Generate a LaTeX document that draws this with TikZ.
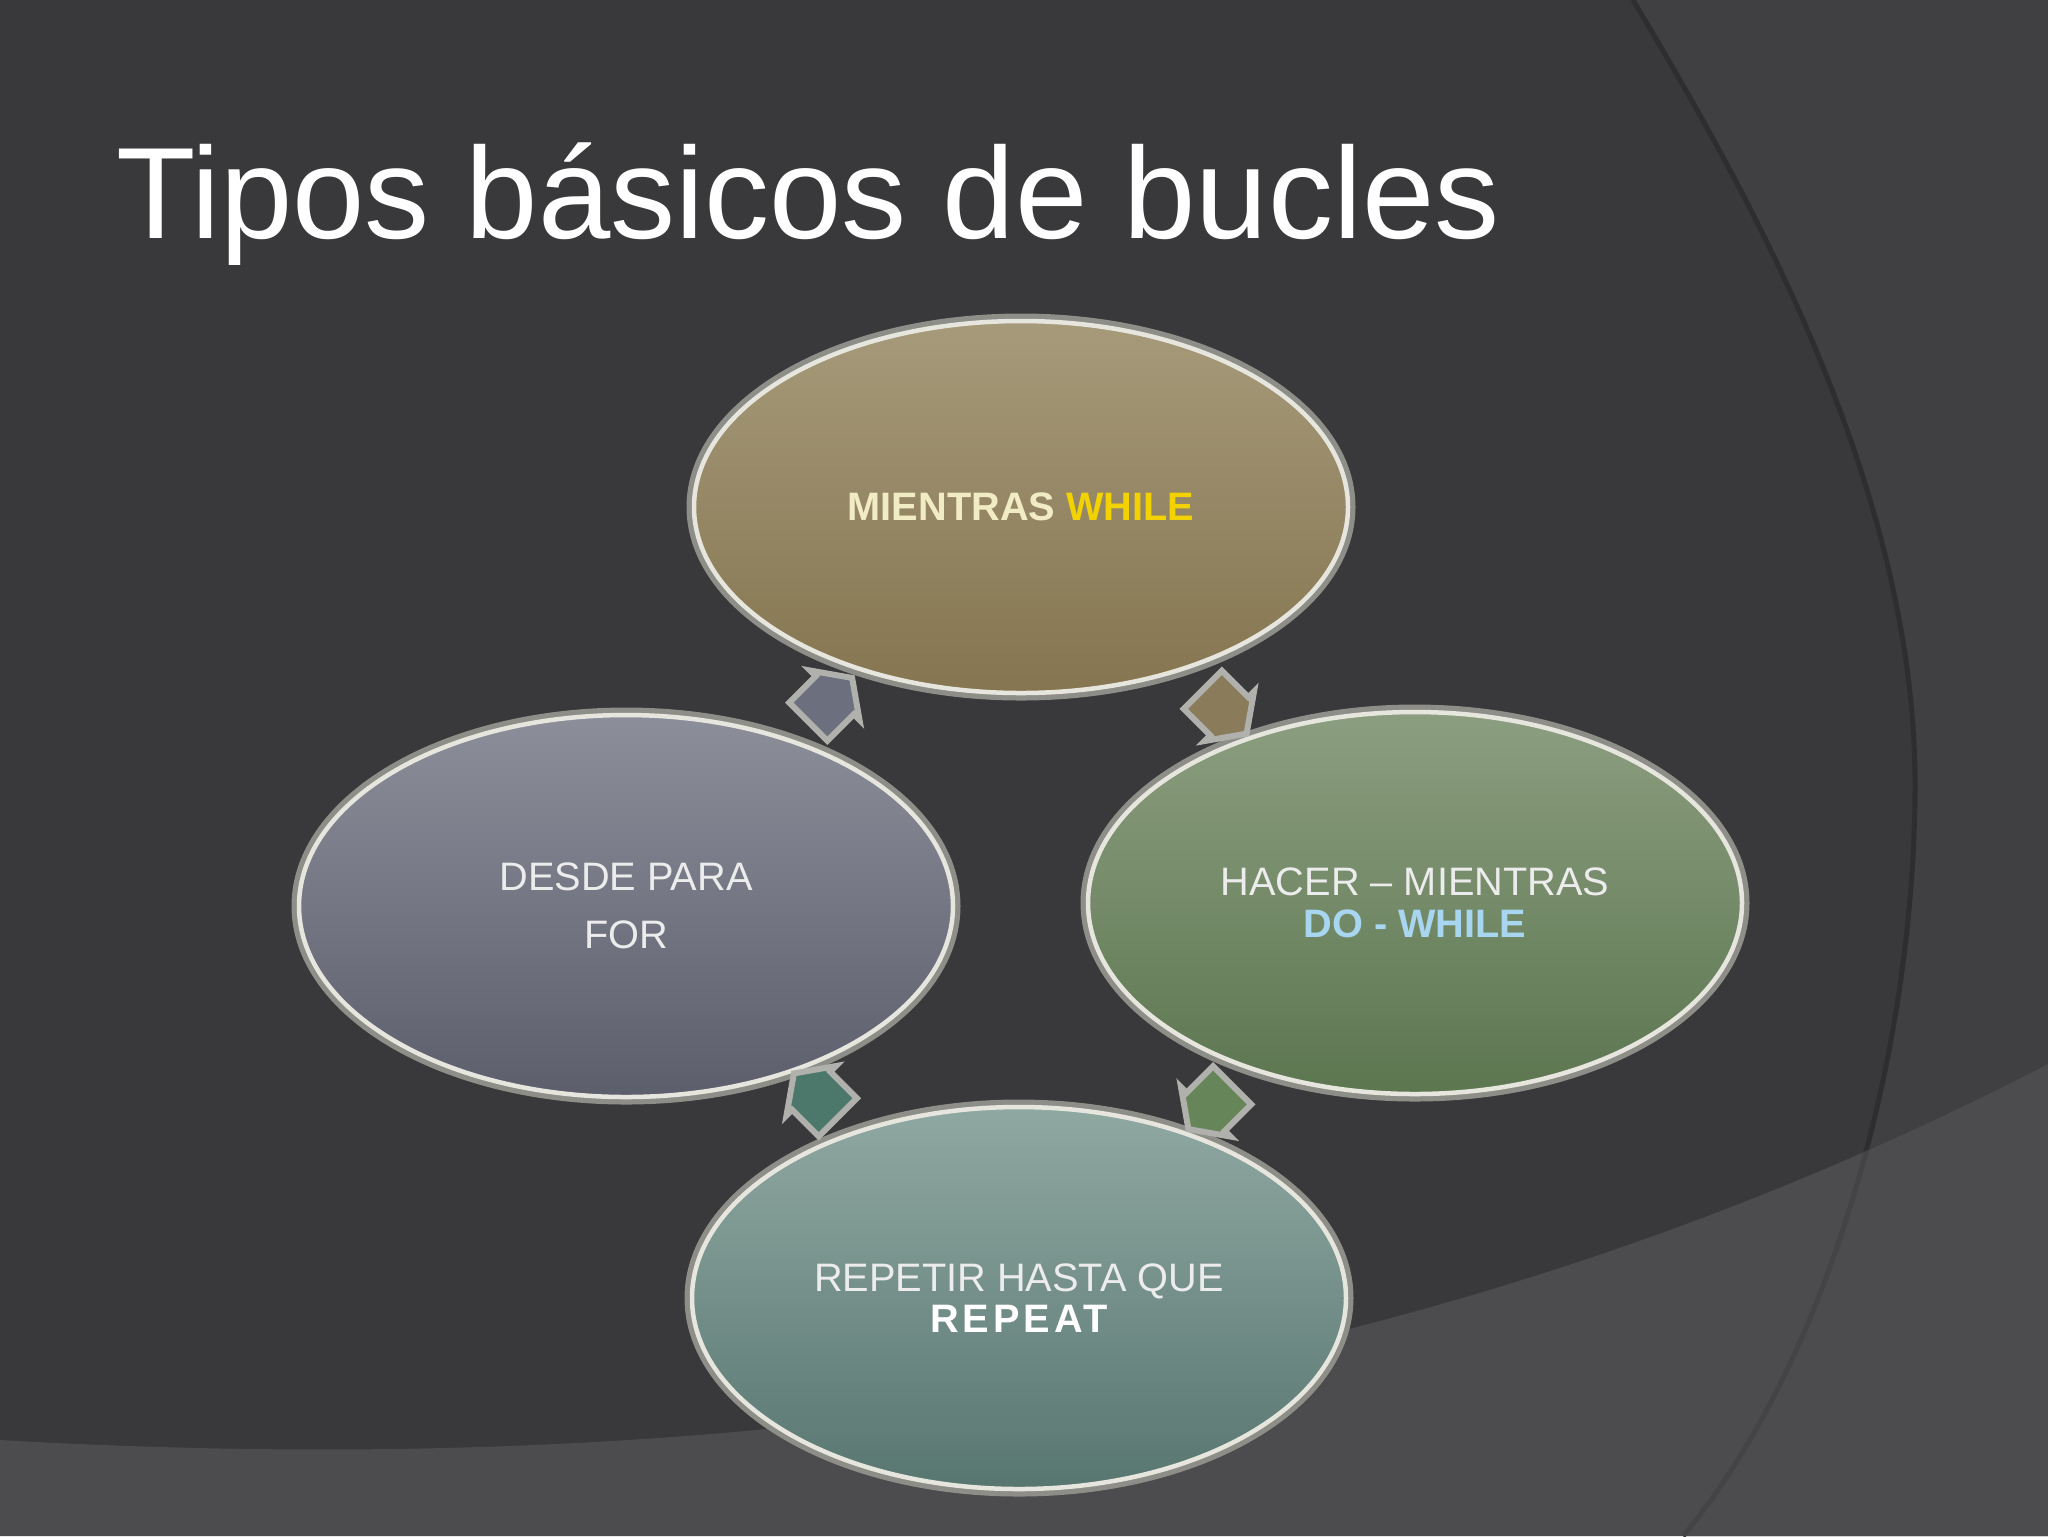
\documentclass[tikz,border=0pt]{standalone}
\usepackage{fontspec}
\setmainfont{Liberation Sans}
\usepackage{tikz}
\usetikzlibrary{shapes,arrows,calc,positioning}

\definecolor{bgdark}{HTML}{39383A}
\definecolor{bgside}{HTML}{403F41}
\definecolor{bgband}{HTML}{4C4B4D}
\definecolor{arcline}{HTML}{2E2D2F}
\definecolor{arcfaint}{HTML}{444345}
\definecolor{goldtop}{HTML}{A69A7A}
\definecolor{goldbot}{HTML}{857550}
\definecolor{slatetop}{HTML}{8C8E9A}
\definecolor{slatebot}{HTML}{5C5E6C}
\definecolor{greentop}{HTML}{8C9E80}
\definecolor{greenbot}{HTML}{5C7650}
\definecolor{tealtop}{HTML}{90A8A2}
\definecolor{tealbot}{HTML}{587670}
\definecolor{goldarrow}{HTML}{8A7C5A}
\definecolor{slatearrow}{HTML}{6C707E}
\definecolor{greenarrow}{HTML}{668659}
\definecolor{tealarrow}{HTML}{4C786C}
\definecolor{rimout}{HTML}{8E8E88}
\definecolor{rimin}{HTML}{E6E6DE}
\definecolor{cream}{HTML}{F2ECC4}
\definecolor{whileyellow}{HTML}{F2D200}
\definecolor{dowhileblue}{HTML}{A8D6F0}
\definecolor{labelgray}{HTML}{ECECEC}

\begin{document}
\begin{tikzpicture}[
    x=0.1mm, y=-0.1mm,
    looptype/.style={ellipse, minimum width=65.4mm, minimum height=38.2mm, inner sep=0pt, align=center, text=labelgray, font=\fontsize{11.3}{11.8}\selectfont, draw=rimin, line width=0.45mm, preaction={draw=rimout, line width=1.5mm}},
    cyclearrow/.style={single arrow, inner xsep=0pt, inner ysep=2.4mm, minimum height=6.2mm, single arrow head extend=0.8mm, single arrow tip angle=110, draw=rimout!70!white, line width=0.6mm},
    title/.style={font=\fontsize{37}{44}\selectfont, text=white, anchor=base west, inner sep=0pt}
]
\useasboundingbox (0,0) rectangle (2048,1536);

% Background
\fill[bgdark] (0,0) rectangle (2048,1536);
\fill[bgside] (1633,0) .. controls (1740,180) and (1915,480) .. (1915,784) .. controls (1915,1050) and (1830,1360) .. (1683,1536) -- (2048,1536) -- (2048,0) -- cycle;
\draw[arcline, line width=0.5mm] (1633,0) .. controls (1740,180) and (1915,480) .. (1915,784) .. controls (1915,1050) and (1830,1360) .. (1683,1536);
\fill[bgband] (0,1440) .. controls (700,1480) and (1400,1400) .. (2048,1064) -- (2048,1536) -- (0,1536) -- cycle;
\begin{scope}
  \clip (0,1440) .. controls (700,1480) and (1400,1400) .. (2048,1064) -- (2048,1536) -- (0,1536) -- cycle;
  \draw[arcfaint, line width=0.5mm] (1915,784) .. controls (1915,1050) and (1830,1360) .. (1683,1536);
\end{scope}

% Title
\node[title] (title) at (116,238) {Tipos básicos de bucles};

% Loop types
\node[looptype, top color=goldtop, bottom color=goldbot, minimum height=37.2mm] (mientras) at (1021,507) {\textbf{\color{cream}MIENTRAS \color{whileyellow}WHILE}};
\node[looptype, top color=greentop, bottom color=greenbot] (hacer) at (1415,903) {HACER – MIENTRAS\\\textbf{\color{dowhileblue}DO - WHILE}};
\node[looptype, top color=tealtop, bottom color=tealbot] (repetir) at (1019,1298) {REPETIR HASTA QUE\\\textbf{\color{white}\addfontfeature{LetterSpace=10}REPEAT}};
\node[looptype, top color=slatetop, bottom color=slatebot] (desde) at (626,906) {DESDE PARA\\[4.7pt]FOR};

% Cycle arrows
\node[cyclearrow, fill=slatearrow, rotate=45] (desde-mientras) at ($(desde)!0.5!(mientras)$) {};
\node[cyclearrow, fill=goldarrow, rotate=-45] (mientras-hacer) at ($(mientras)!0.5!(hacer)$) {};
\node[cyclearrow, fill=greenarrow, rotate=-135] (hacer-repetir) at ($(hacer)!0.5!(repetir)$) {};
\node[cyclearrow, fill=tealarrow, rotate=135] (repetir-desde) at ($(repetir)!0.5!(desde)$) {};

\end{tikzpicture}
\end{document}
